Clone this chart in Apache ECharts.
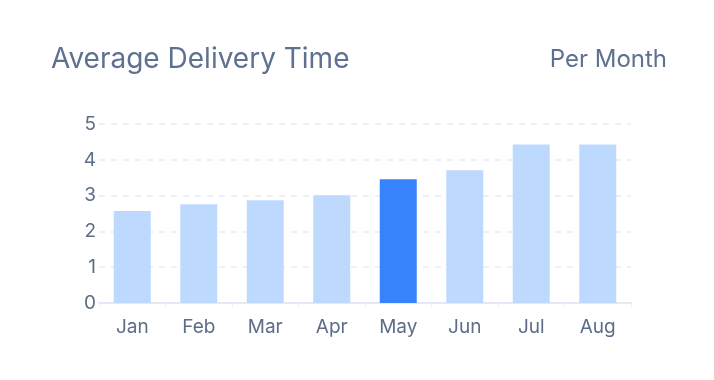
<!DOCTYPE html>
<html><head><meta charset="utf-8">
<script src="https://cdn.jsdelivr.net/npm/echarts@6/dist/echarts.min.js"></script>
<style>html,body{margin:0;padding:0;background:#fff}#c{width:714px;height:380px}</style>
</head><body><div id="c"></div>
<script>
const categories = ['Jan','Feb','Mar','Apr','May','Jun','Jul','Aug'];
const values = [2.57, 2.76, 2.87, 3.01, 3.46, 3.71, 4.43, 4.43];
const highlightIndex = 4;
const yTicks = [0,1,2,3,4,5];

const chart = echarts.init(document.getElementById('c'));
chart.setOption({
  animation: false,
  title: [
    {text: 'Average Delivery Time', left: 46, top: 41, textStyle: {fontFamily: 'Inter', fontSize: 28, fontWeight: 'normal', color: '#5f7190'}},
    {text: 'Per Month', right: 42, top: 43, textStyle: {fontFamily: 'Inter', fontSize: 24, fontWeight: 'normal', color: '#5f7190'}}
  ],
  grid: {left: 99, right: 83, top: 124, bottom: 77},
  xAxis: {
    type: 'category', data: categories,
    axisLine: {lineStyle: {color: '#e3e9f6', width: 2}},
    axisTick: {show: true, lineStyle: {color: '#eef1f8'}, length: 4},
    axisLabel: {fontFamily: 'Inter', fontSize: 19, color: '#5d6c87', margin: 15}
  },
  yAxis: {
    type: 'value', min: yTicks[0], max: yTicks[yTicks.length-1], interval: 1,
    axisLine: {show: false}, axisTick: {show: false},
    splitLine: {lineStyle: {color: '#e8ecf5', type: [6, 6], width: 1.5}},
    axisLabel: {fontFamily: 'Inter', fontSize: 19, color: '#5d6c87', margin: 3}
  },
  series: [{
    type: 'bar', barWidth: 37,
    data: values.map((v, i) => ({value: v, itemStyle: {color: i === highlightIndex ? '#3683fc' : '#bddafe'}}))
  }]
});
</script></body></html>
